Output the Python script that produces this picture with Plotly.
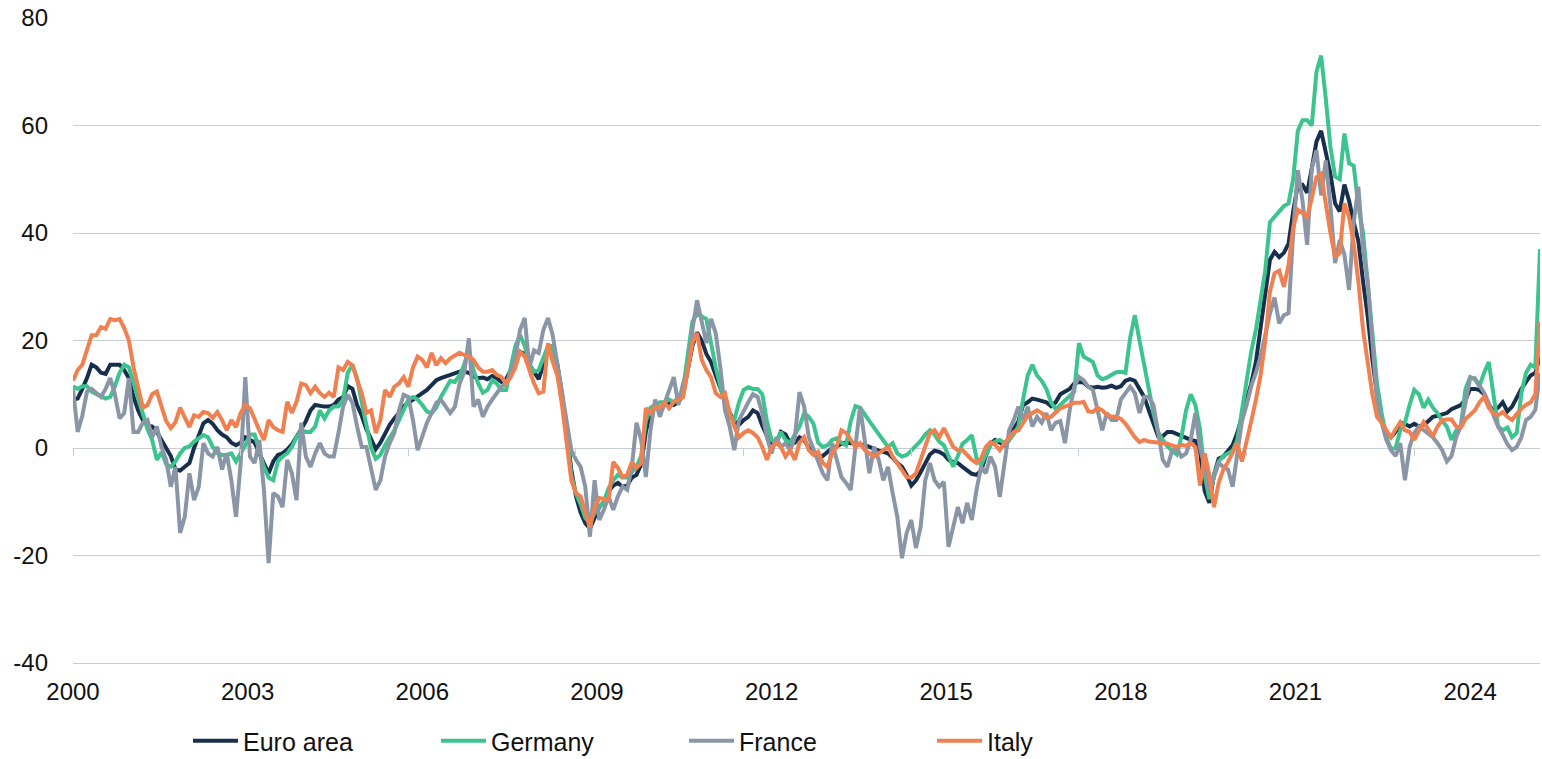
import plotly.graph_objects as go

# Monthly values, Jan 2000 - Apr 2026
euro_area = [
    9, 9.2, 11, 13, 15.5, 15, 14, 13.8, 15.5, 15.5, 15.5, 14.5,          # 2000
    13, 9.5, 7, 5.2, 4.2, 4, 3, 1.5, 0, -1.5, -4, -4.2,                   # 2001
    -3.5, -2.8, 0, 2.5, 4.6, 5.2, 4.5, 3.3, 2.5, 2, 1, 0.5,               # 2002
    1, 2, 1.5, 1, -1, -3, -4.7, -2.5, -1.3, -1, -0.3, 0.7,                # 2003
    2, 3.5, 5, 7, 8, 7.8, 7.7, 7.7, 8, 9, 9.5, 11.5,                      # 2004
    11, 8, 6, 3.5, 1.5, -0.2, 1, 2.8, 4.3, 5.5, 6.5, 7.8,                 # 2005
    8.4, 9, 9.5, 10, 10.8, 11.7, 12.6, 13, 13.3, 13.6, 14, 14.2,          # 2006
    14.2, 14, 13.3, 13, 13.1, 12.8, 13.4, 13, 12.3, 12.8, 14.5, 17,       # 2007
    17.9, 17.5, 15.5, 14, 12.8, 15.5, 18.8, 19, 15.5, 10, 3, -4,          # 2008
    -9, -12, -14, -15, -13, -11, -10, -8, -7, -6.5, -7.2, -7,             # 2009
    -5.5, -5, -3, 3, 6.5, 7.5, 7.5, 8, 8.5, 8, 8.5, 10,                   # 2010
    15, 19, 21.5, 20, 17.5, 16, 13.5, 11, 8.5, 6.5, 5, 4.3,               # 2011
    5.2, 5.8, 7, 6.5, 4.2, 2, 0.3, 1, 3, 2.5, 0.8, 1,                     # 2012
    2, 1.5, 0, -0.7, -1.5, -1.5, -0.7, 0, 0.3, 0.8, 1, 0.9,               # 2013
    0.8, 0.6, 0.5, 0.2, -0.2, -0.5, -0.7, -1, -1.8, -2.8, -3.5, -5,       # 2014
    -7, -6, -4.5, -2.8, -1.2, -0.5, -0.7, -1.2, -2.2, -2.6, -2.8, -3.5,   # 2015
    -4.2, -4.8, -5, -4.2, -1.5, 0.8, 1.5, 1.1, 0.5, 1.5, 3.5, 5,          # 2016
    8, 8.5, 9.2, 9, 8.8, 8.5, 7.8, 8.5, 10, 10.5, 11, 12,                 # 2017
    12.3, 12.2, 11.4, 11.2, 11.4, 11.2, 11.3, 11.6, 11.2, 11.5, 12.5, 12.8,  # 2018
    12.5, 11, 9.5, 7, 4.8, 2.2, 2.2, 3, 3, 2.6, 2.3, 2,                   # 2019
    1.5, 1.3, -0.5, -8, -10.2, -5, -2, -1.6, -0.6, 0.5, 2.8, 6,           # 2020
    8.5, 12, 16, 22, 29, 35, 36.5, 35.5, 36.3, 38, 44, 49,                # 2021
    49, 47.5, 52, 57, 59, 55, 51, 45.5, 44, 49, 46, 42,                   # 2022
    38.5, 31, 24.5, 16.5, 10, 5, 3, 2, 3, 4.7, 4.5, 4,                    # 2023
    4.5, 4, 4.3, 5, 5.8, 6, 6.2, 6.5, 7.2, 7.6, 8, 9,                     # 2024
    11, 11, 10.8, 10, 8, 7, 7.5, 8.5, 6.8, 7.7, 9.5, 11,                  # 2025
    12.3, 13.5, 14, 17,                                                   # 2026
]

germany = [
    11.5, 11, 11.5, 11.5, 10.5, 10, 9.7, 9.2, 9.5, 11.5, 14, 15.5,        # 2000
    15, 12, 9, 6, 3.5, 1.5, -2.2, -0.8, -3, -3.5, -2.5, -1,               # 2001
    0, 0.3, 1.2, 1.8, 2.4, 2, 0.2, -1, -1.3, -1.3, -1, -2.5,              # 2002
    -1, 0.5, 2.5, 2.5, -0.5, -3.5, -5.5, -6, -2.5, -1.6, -1, 0.2,         # 2003
    2, 3.3, 3, 3, 4, 7, 5.5, 7, 7.7, 7.7, 9, 14,                          # 2004
    15.5, 13, 8.5, 4, 0, -2, -1.3, 0.5, 2, 3.3, 5.2, 7,                   # 2005
    9, 9.5, 9, 8, 6.8, 6.5, 7.5, 9.5, 11, 12.5, 12.3, 13.5,               # 2006
    15.5, 18.5, 14.5, 12, 10.3, 10.8, 12.6, 12, 10.8, 10.8, 15, 19,       # 2007
    21, 19, 15.5, 14.2, 14.5, 17, 19, 19, 15, 10, 2, -5,                  # 2008
    -8.5, -10.5, -13, -14, -12, -11, -10, -7.5, -6, -5, -5.5, -5.5,       # 2009
    -4.5, -3.5, -1.5, 5, 7.5, 8, 8.5, 8.5, 9, 8.5, 9.5, 11,               # 2010
    18, 23.5, 25, 24.5, 24, 19.5, 15, 11.5, 8, 5.8, 5.2, 8.5,             # 2011
    10.8, 11.3, 11, 11, 10, 5, 1.5, 1, 3, 1.5, 1, 2.5,                    # 2012
    4, 6.5, 5.8, 4.5, 1, 0.2, 0.5, 1.5, 1.8, 1, 0.5, 5,                   # 2013
    7.8, 7.5, 6.1, 5, 3.8, 2.5, 1.2, 0.2, 0.9, -1, -1.6, -1.3,            # 2014
    -0.5, 0.3, 1.3, 2.5, 3.3, 2.5, 1.2, 0.5, -1.5, -3.5, -1.5, 0.8,       # 2015
    1.5, 2.4, -1.9, -3.2, -1.3, 0.5, 1.2, 1.5, 0.9, 1.5, 2.6, 4,          # 2016
    9, 13.5, 15.5, 13.5, 12.5, 11, 8.5, 7.2, 8, 8.8, 9.5, 10.5,           # 2017
    19.5, 17, 16.5, 16, 13.5, 12.8, 13.1, 13.5, 14.1, 14.2, 14, 20.5,     # 2018
    24.7, 20, 15, 11, 6.5, 3, 1.5, 0.3, -0.5, -1.2, 2, 7,                 # 2019
    10, 8, 3.5, -5, -9.5, -5, -2.5, -1.5, -1, -0.5, 1.5, 7,               # 2020
    13, 18, 22, 28, 33, 42, 43, 44, 45, 45.5, 50, 59,                     # 2021
    61, 61, 60, 70, 73, 65, 56, 50.5, 50, 58.5, 53, 52.5,                 # 2022
    45, 40, 31, 21.5, 12, 6.5, 2, -0.2, 0, 3.3, 4.7, 8,                   # 2023
    10.8, 10, 7.5, 9, 7.5, 6.5, 5, 4, 1.5, 3.3, 4, 11,                    # 2024
    13.2, 12.8, 11.5, 14, 16, 10, 4, 3.3, 3.8, 2, 2.8, 10.2,              # 2025
    14, 15.5, 15, 37,                                                     # 2026
]

france = [
    11, 3, 6, 10.5, 11, 10.3, 9.5, 11, 13, 10, 5.5, 6.5,                  # 2000
    13, 3, 3, 4.7, 5.2, 2, 4, 0.2, -2.2, -7.2, -3.5, -15.8,               # 2001
    -12.8, -4.7, -9.7, -7.2, 0.9, -1, -1.6, 0.2, -4, -1, -6, -12.8,       # 2002
    -2.8, 13.2, -1.6, -2.8, 1.5, -7.8, -21.4, -8.4, -9, -11, -2.2, -4.7,  # 2003
    -9.7, 4.7, -1.6, -3.5, -1, 0.9, -1, -1.6, -1.6, 2.8, 7.7, 9.9,        # 2004
    8.4, 4, 0.2, 0.2, -3.5, -7.8, -6, -1.6, 0.9, 2.8, 7, 9.9,             # 2005
    9.5, 5.2, -0.4, 2, 4.7, 6.5, 8.4, 9, 7.7, 6.5, 7.7, 12,               # 2006
    14, 20.4, 7.7, 9, 5.8, 7.7, 9, 10.2, 11.4, 12, 14, 17,                # 2007
    22, 24.2, 15, 18.2, 17.7, 22, 24.2, 21, 15.8, 9.5, 4.7, -0.4,         # 2008
    -2.2, -3.5, -7.2, -16.5, -6, -13.4, -11.5, -9, -11.5, -9, -7.2, -7.8,  # 2009
    -3.5, 4.7, 1.5, -5.4, 3.3, 9, 5.8, 8.4, 10.8, 13.2, 8, 12,            # 2010
    14.5, 22, 27.5, 23.8, 19.5, 24, 21.4, 15, 7, 4, -0.4, 5.2,            # 2011
    7, 8.5, 10, 9.5, 6.5, 2, -1, 2, 0.2, 0.9, -0.4, 2,                    # 2012
    10.4, 7.7, 2, -0.4, -2.8, -4.7, -6, 0.9, -2.2, -5.4, -6.5, -7.8,      # 2013
    0.2, 7.7, 1.5, -4.7, 0.2, -2.2, -6, -3.5, -8.4, -12.8, -20.5, -15.8,  # 2014
    -13.4, -18.6, -14.7, -6, -2.8, -6, -7.2, -6.3, -18.4, -14.7, -11, -14,  # 2015
    -10.2, -13.4, -7.8, -3.5, -4.7, -1.6, -3.5, -9.1, -3.5, 3.3, 5.2, 7.7,  # 2016
    5.2, 7.7, 4, 5.8, 4.7, 6.5, 3.3, 4.7, 5, 0.9, 7, 11.4,                # 2017
    13.2, 12.6, 11.4, 10.8, 7, 3.3, 6.5, 5.2, 5.2, 9, 10.2, 11.4,         # 2018
    10.2, 6.5, 9.5, 9.5, 8, 2.5, -2.2, -3.5, -0.5, 0, -1.6, -1,           # 2019
    1.5, 6.5, 0, -3.5, -8, -5.4, -2.8, -3.5, -4, -7.2, -1, 5,             # 2020
    8, 11.5, 14, 17, 21, 25, 28, 23.2, 24.7, 25.1, 40, 51.7,              # 2021
    46, 37.8, 52, 55.4, 47, 53.5, 45, 34.4, 38.7, 36, 29.4, 42,           # 2022
    48.6, 37, 31, 19, 8.9, 4.7, 1.5, -0.4, -1.5, 0.9, -6, 0.2,            # 2023
    2.8, 4, 3.3, 2.8, 2, 0.9, -0.4, -2.5, -1.5, 2, 4, 8.4,                # 2024
    13, 13, 11.8, 10.3, 8.3, 6, 4, 2.5, 0.7, -0.4, 0.2, 2,                # 2025
    5.2, 5.8, 7.1, 14,                                                    # 2026
]

italy = [
    12.5, 14.5, 15.5, 18, 21, 21, 22.5, 22.2, 24, 23.8, 24, 22.3,         # 2000
    20, 15, 11.5, 7.5, 8, 10, 10.5, 7.5, 5, 3.7, 4.8, 7.5,                # 2001
    5.8, 3.9, 6.1, 5.8, 6.7, 6.5, 5.6, 6.7, 5.2, 3.3, 5.2, 3.9,           # 2002
    6.5, 8, 7.4, 5.2, 3.3, 1.5, 5.2, 3.9, 3.3, 3, 8.6, 6.5,               # 2003
    8.6, 12, 11.7, 10.2, 11.4, 10.2, 9.5, 10.3, 9.5, 15, 14.5, 16,        # 2004
    15.4, 12.6, 10.2, 6.5, 7, 2.8, 5.2, 10.8, 9.5, 11.4, 12, 13.2,        # 2005
    11.4, 15, 17, 16.4, 15, 17.7, 15.4, 16.7, 15.8, 16.7, 17.3, 17.7,     # 2006
    17.3, 17, 16.4, 15, 14.2, 14.2, 14.5, 13.6, 13.2, 12, 13.2, 15,       # 2007
    17.9, 17, 14.5, 12, 10.2, 10.5, 19.5, 16, 13.5, 8, 1, -6,             # 2008
    -8.4, -9, -12, -14.7, -11, -9.3, -9.5, -9.7, -2.6, -3.7, -5.4, -5,    # 2009
    -2.6, -3.7, -2.8, 7.4, 6.5, 7.7, 7.4, 8.4, 7.4, 8.6, 9, 9.5,          # 2010
    14.5, 19.5, 21.4, 16.4, 14.5, 13.2, 10.2, 9.5, 10.2, 6.5, 4, 2,       # 2011
    2.8, 3.3, 2.8, 2, 0.2, -2.2, 0.2, 0.9, 0.2, -1.6, -0.4, -2.2,         # 2012
    1, 2, -0.4, -1.3, -0.7, -2.8, -3.5, -1, 0.2, 3.3, 2.8, 1.5,           # 2013
    0.2, 0.9, -0.4, -1, -1.6, -1, -0.4, 0.2, -1.6, -2.8, -4, -5.4,        # 2014
    -5.5, -4.7, -2.2, 0.2, 2.8, 3.3, 2, 3.7, 2, 0.2, -0.4, -0.4,          # 2015
    -1.3, -2.2, -2.8, -1.9, 0.2, 1.1, 0.6, -0.4, 0.9, 2, 3, 3.3,          # 2016
    4.7, 6, 6.5, 7, 6.5, 5.6, 5.8, 6.5, 7.4, 7.7, 8, 8.4,                 # 2017
    8.4, 8.6, 6.8, 6.7, 7.5, 7, 6.2, 5.8, 5.8, 5.4, 4.5, 3.2,             # 2018
    2, 1.1, 1.5, 1.2, 1.1, 1.1, 1, 0.8, 0.5, 0.2, 0.6, 0.4,               # 2019
    0.9, 0.2, -7, -1, -5, -11, -6.5, -4, -2.6, -1, 0.9, -2.5,             # 2020
    1, 5, 9, 13.5, 20, 29, 32.5, 33, 30, 34, 41, 44.3,                    # 2021
    43.7, 43, 46.5, 50.4, 51, 45, 40, 35.5, 36.3, 45.5, 43, 38,           # 2022
    31, 22, 15.5, 10, 5.8, 4.7, 3.3, 2, 3.5, 4.8, 3.3, 3,                 # 2023
    1.5, 3.3, 4.8, 3.5, 2.2, 4, 5.2, 5.3, 5.3, 4, 3.8, 5.4,               # 2024
    6.2, 7, 8.5, 9.5, 7.5, 6.4, 6.1, 6.7, 5.8, 5.2, 6.3, 7.3,             # 2025
    8, 8.5, 10, 23.5,                                                     # 2026
]

series_names = ["Euro area", "Germany", "France", "Italy"]
series_colors = ["#172e4c", "#3cc48e", "#8a96a6", "#f0804f"]
year_labels = ["2000", "2003", "2006", "2009", "2012", "2015", "2018", "2021", "2024"]
y_ticks = [-40, -20, 0, 20, 40, 60, 80]
y_tick_text = ["-40", "-20", "0", "20", "40", "60", "80"]

n_months = len(euro_area)
months = list(range(n_months))
label_step = 37.5          # spacing of the year labels, in months, as drawn in the original
minor_tick_step = 36       # small tick marks on the zero line

grid_color = "#c9cdd6"
font_family = "Liberation Sans, Arial, sans-serif"

fig = go.Figure()
for name, vals, color in zip(series_names, [euro_area, germany, france, italy], series_colors):
    fig.add_trace(go.Scatter(
        x=months, y=vals, mode="lines", name=name,
        line=dict(color=color, width=4),
        hoverinfo="skip",
    ))

# empty trace so that the zero-line tick axis is rendered
fig.add_trace(go.Scatter(x=[], y=[], xaxis="x2", showlegend=False, hoverinfo="skip"))

fig.update_layout(
    width=1542, height=759,
    margin=dict(l=73, r=2, t=18, b=96, autoexpand=False),
    paper_bgcolor="white", plot_bgcolor="white",
    font=dict(family=font_family, size=24, color="#111111"),
    showlegend=True,
    legend=dict(
        orientation="h", x=0.0784, xanchor="left",
        yref="container", y=18 / 759, yanchor="middle",
        font=dict(size=25, color="#111111"),
        entrywidth=188, entrywidthmode="pixels",
        itemwidth=45, bgcolor="rgba(0,0,0,0)",
        tracegroupgap=0,
    ),
    xaxis=dict(
        range=[0, n_months - 1], automargin=False,
        tickmode="array",
        tickvals=[i * label_step for i in range(len(year_labels))],
        ticktext=year_labels,
        ticks="", showgrid=False, zeroline=False,
        showline=True, linecolor=grid_color, linewidth=1,
        ticklabelstandoff=7,
    ),
    xaxis2=dict(
        overlaying="x", anchor="free", position=1 / 3,
        range=[0, n_months - 1], automargin=False,
        tickmode="array",
        tickvals=list(range(0, n_months, minor_tick_step)),
        ticks="outside", ticklen=7, tickwidth=1, tickcolor=grid_color,
        showticklabels=False, showgrid=False, zeroline=False, showline=False,
    ),
    yaxis=dict(
        range=[-40, 80], automargin=False,
        tickmode="array", tickvals=y_ticks, ticktext=y_tick_text,
        showgrid=True, gridcolor=grid_color, gridwidth=1,
        zeroline=True, zerolinecolor=grid_color, zerolinewidth=1,
        ticks="", ticklabelstandoff=24,
    ),
)

fig.write_html(
    "out.html",
    config={"displayModeBar": False},
    post_script="document.body.style.margin='0';document.body.style.overflow='hidden';",
)
